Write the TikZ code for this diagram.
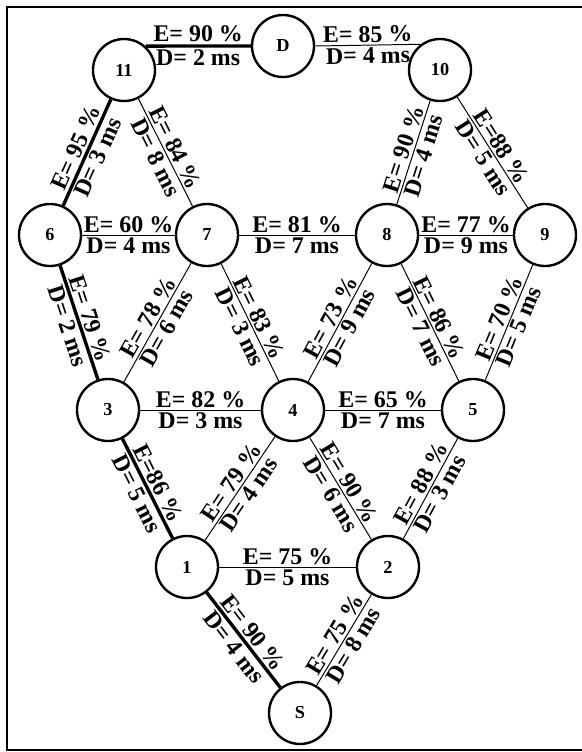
\documentclass[tikz,border=0pt]{standalone}
\usepackage{fontspec}
\setmainfont{Liberation Serif}
\usetikzlibrary{positioning}
\tikzset{
  router/.style={draw, circle, line width=1.7pt, minimum size=1.55cm, inner sep=0pt,
    font=\fontsize{13}{15}\selectfont\bfseries},
  elabel/.style={sloped, inner sep=1.5pt, font=\fontsize{17}{19}\selectfont\bfseries},
  link/.style={line width=0.7pt},
  bestlink/.style={line width=2.4pt},
}

\begin{document}
\begin{tikzpicture}[x=0.025cm, y=-0.025cm]
\useasboundingbox (0,0) rectangle (581,752);
% Frame
\draw[line width=1.8pt] (7,7) rectangle (590,750);

% Routers
\foreach \name/\x/\y in {S/300/713, 1/187/567, 2/388/567, 3/108/410, 4/293/410, 5/473/410,
    6/50/235, 7/207/235, 8/387/235, 9/545/235, 11/124/70, 10/440/70, D/283/46} {
    \node[router] (n\name) at (\x,\y) {\name};
}

% Links
\draw[link] (nD.east) -- node[elabel, above] {E= 85 \%} node[elabel, below] {D= 4 ms} (n10.127);
\foreach \a/\b/\e/\d in {11/7/{E= 84 \%}/{D= 8 ms}, 10/8/{E= 90 \%}/{D= 4 ms},
    10/9/{E=88 \%}/{D= 5 ms}, 6/7/{E= 60 \%}/{D= 4 ms}, 7/8/{E= 81 \%}/{D= 7 ms},
    8/9/{E= 77 \%}/{D= 9 ms}, 7/3/{E= 78 \%}/{D= 6 ms}, 7/4/{E= 83 \%}/{D= 3 ms},
    8/4/{E= 73 \%}/{D= 9 ms}, 8/5/{E= 86 \%}/{D= 7 ms}, 9/5/{E= 70 \%}/{D= 5 ms},
    3/4/{E= 82 \%}/{D= 3 ms}, 4/5/{E= 65 \%}/{D= 7 ms}, 4/1/{E= 79 \%}/{D= 4 ms},
    4/2/{E= 90 \%}/{D= 6 ms}, 5/2/{E= 88 \%}/{D= 3 ms}, 1/2/{E= 75 \%}/{D= 5 ms},
    2/S/{E= 75 \%}/{D= 8 ms}} {
    \draw[link] (n\a) -- node[elabel, above] {\e} node[elabel, below] {\d} (n\b);
}

% Best path
\draw[bestlink] (n11.48) -- node[elabel, above] {E= 90 \%} node[elabel, below] {D= 2 ms} (nD.west);
\foreach \a/\b/\e/\d in {11/6/{E= 95 \%}/{D= 3 ms}, 6/3/{E= 79 \%}/{D= 2 ms},
    3/1/{E=86 \%}/{D= 5 ms}, 1/S/{E= 90 \%}/{D= 4 ms}} {
    \draw[bestlink] (n\a) -- node[elabel, above] {\e} node[elabel, below] {\d} (n\b);
}
\end{tikzpicture}
\end{document}
